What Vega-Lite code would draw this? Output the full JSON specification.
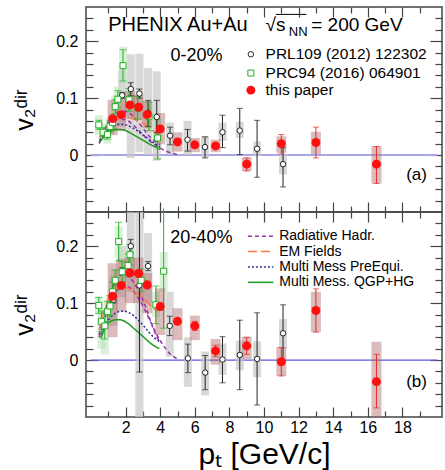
{
  "$schema": "https://vega.github.io/schema/vega-lite/v6.json",
  "padding": {"left": 12, "top": 5, "right": 0, "bottom": 0},
  "bounds": "flush",
  "spacing": 0,
  "config": {
    "font": "Liberation Sans",
    "view": {"stroke": "#444", "strokeWidth": 1.5},
    "axis": {"domain": false, "grid": false, "tickColor": "#444", "tickWidth": 1.2, "labelColor": "black", "labelFont": "Liberation Sans", "labelFontSize": 16, "titleColor": "black", "titleFont": "Liberation Sans", "titleFontWeight": "normal", "minExtent": 0, "labelOverlap": false, "labelFlush": false},
    "concat": {"spacing": 0}
  },
  "datasets": {
    "one": [{}],
    "ra": [
      {"x": 1.25, "v": 0.064, "el": 0.059, "eh": 0.069, "sl": 0.035, "sh": 0.097},
      {"x": 1.75, "v": 0.071, "el": 0.066, "eh": 0.076, "sl": 0.042, "sh": 0.1},
      {"x": 2.25, "v": 0.088, "el": 0.083, "eh": 0.093, "sl": 0.064, "sh": 0.112},
      {"x": 2.75, "v": 0.084, "el": 0.079, "eh": 0.089, "sl": 0.062, "sh": 0.106},
      {"x": 3.25, "v": 0.071, "el": 0.065, "eh": 0.077, "sl": 0.047, "sh": 0.095},
      {"x": 4.0, "v": 0.046, "el": 0.04, "eh": 0.052, "sl": 0.019, "sh": 0.074},
      {"x": 5.0, "v": 0.023, "el": 0.018, "eh": 0.028, "sl": 0.006, "sh": 0.04},
      {"x": 6.0, "v": 0.018, "el": 0.014, "eh": 0.022, "sl": 0.005, "sh": 0.03},
      {"x": 7.2, "v": 0.016, "el": 0.012, "eh": 0.02, "sl": 0.005, "sh": 0.027},
      {"x": 9.0, "v": -0.016, "el": -0.028, "eh": -0.005, "sl": -0.028, "sh": -0.004},
      {"x": 11.0, "v": 0.02, "el": 0.002, "eh": 0.036, "sl": 0.004, "sh": 0.033},
      {"x": 13.0, "v": 0.022, "el": -0.005, "eh": 0.049, "sl": 0.002, "sh": 0.041},
      {"x": 16.5, "v": -0.016, "el": -0.05, "eh": 0.015, "sl": -0.05, "sh": 0.016}
    ],
    "ga": [
      {"x": 1.8, "v": 0.105, "el": 0.1, "eh": 0.11, "sl": 0.05, "sh": 0.15},
      {"x": 2.3, "v": 0.116, "el": 0.104, "eh": 0.127, "sl": -0.005, "sh": 0.177},
      {"x": 2.8, "v": 0.108, "el": 0.1, "eh": 0.116, "sl": 0.005, "sh": 0.178},
      {"x": 3.3, "v": 0.074, "el": 0.05, "eh": 0.096, "sl": 0.0, "sh": 0.153},
      {"x": 3.8, "v": 0.067, "el": 0.039, "eh": 0.096, "sl": -0.01, "sh": 0.147},
      {"x": 4.57, "v": 0.034, "el": 0.018, "eh": 0.049, "sl": 0.001, "sh": 0.057},
      {"x": 5.58, "v": 0.027, "el": 0.007, "eh": 0.045, "sl": 0.0, "sh": 0.06},
      {"x": 6.59, "v": 0.014, "el": -0.005, "eh": 0.032, "sl": -0.004, "sh": 0.033},
      {"x": 7.6, "v": 0.04, "el": 0.013, "eh": 0.07, "sl": 0.025, "sh": 0.057},
      {"x": 8.6, "v": 0.043, "el": 0.001, "eh": 0.082, "sl": 0.03, "sh": 0.058},
      {"x": 9.6, "v": 0.011, "el": -0.039, "eh": 0.061, "sl": -0.002, "sh": 0.024},
      {"x": 11.1, "v": -0.016, "el": -0.056, "eh": 0.013, "sl": -0.034, "sh": 0.001}
    ],
    "na": [
      {"x": 0.45, "v": 0.053, "el": 0.045, "eh": 0.061, "sl": 0.035, "sh": 0.07},
      {"x": 0.7, "v": 0.04, "el": 0.032, "eh": 0.048, "sl": 0.025, "sh": 0.055},
      {"x": 0.95, "v": 0.036, "el": 0.028, "eh": 0.044, "sl": 0.02, "sh": 0.052},
      {"x": 1.1, "v": 0.05, "el": 0.04, "eh": 0.06, "sl": 0.035, "sh": 0.065},
      {"x": 1.25, "v": 0.057, "el": 0.047, "eh": 0.067, "sl": 0.04, "sh": 0.074},
      {"x": 1.4, "v": 0.085, "el": 0.073, "eh": 0.097, "sl": 0.065, "sh": 0.105},
      {"x": 1.55, "v": 0.098, "el": 0.083, "eh": 0.113, "sl": 0.075, "sh": 0.12},
      {"x": 1.85, "v": 0.157, "el": 0.13, "eh": 0.185, "sl": 0.125, "sh": 0.19},
      {"x": 2.2, "v": 0.097, "el": 0.077, "eh": 0.117, "sl": 0.075, "sh": 0.12},
      {"x": 2.7, "v": 0.083, "el": 0.063, "eh": 0.103, "sl": 0.06, "sh": 0.105},
      {"x": 3.35, "v": 0.068, "el": 0.043, "eh": 0.093, "sl": 0.045, "sh": 0.09},
      {"x": 3.85, "v": 0.03, "el": -0.007, "eh": 0.062, "sl": 0.01, "sh": 0.06}
    ],
    "rb": [
      {"x": 1.25, "v": 0.112, "el": 0.106, "eh": 0.118, "sl": 0.04, "sh": 0.17},
      {"x": 1.75, "v": 0.131, "el": 0.125, "eh": 0.137, "sl": 0.085, "sh": 0.178},
      {"x": 2.25, "v": 0.153, "el": 0.147, "eh": 0.159, "sl": 0.1, "sh": 0.18},
      {"x": 2.75, "v": 0.152, "el": 0.146, "eh": 0.158, "sl": 0.1, "sh": 0.18},
      {"x": 3.25, "v": 0.132, "el": 0.125, "eh": 0.139, "sl": 0.082, "sh": 0.153},
      {"x": 4.0, "v": 0.094, "el": 0.088, "eh": 0.1, "sl": 0.044, "sh": 0.126},
      {"x": 5.0, "v": 0.068, "el": 0.063, "eh": 0.073, "sl": 0.035, "sh": 0.091},
      {"x": 6.0, "v": 0.06, "el": 0.052, "eh": 0.068, "sl": 0.035, "sh": 0.078},
      {"x": 7.2, "v": 0.016, "el": 0.006, "eh": 0.026, "sl": -0.008, "sh": 0.037},
      {"x": 9.0, "v": 0.025, "el": 0.01, "eh": 0.04, "sl": 0.002, "sh": 0.041},
      {"x": 11.0, "v": -0.003, "el": -0.028, "eh": 0.022, "sl": -0.028, "sh": 0.023},
      {"x": 13.0, "v": 0.087, "el": 0.049, "eh": 0.125, "sl": 0.049, "sh": 0.12},
      {"x": 16.5, "v": -0.038, "el": -0.084, "eh": 0.01, "sl": -0.12, "sh": 0.032}
    ],
    "gb": [
      {"x": 1.3, "v": 0.106, "el": 0.1, "eh": 0.112, "sl": 0.06, "sh": 0.15},
      {"x": 1.8, "v": 0.156, "el": 0.15, "eh": 0.162, "sl": 0.11, "sh": 0.2},
      {"x": 2.3, "v": 0.2, "el": 0.188, "eh": 0.212, "sl": 0.12, "sh": 0.3},
      {"x": 2.8, "v": 0.131, "el": -0.021, "eh": 0.3, "sl": -0.12, "sh": 0.3},
      {"x": 3.3, "v": 0.165, "el": 0.157, "eh": 0.173, "sl": 0.1, "sh": 0.223},
      {"x": 4.55, "v": 0.06, "el": 0.043, "eh": 0.077, "sl": 0.006, "sh": 0.12},
      {"x": 5.6, "v": 0.003, "el": -0.022, "eh": 0.028, "sl": -0.047, "sh": 0.04},
      {"x": 6.6, "v": -0.022, "el": -0.052, "eh": 0.008, "sl": -0.062, "sh": 0.015},
      {"x": 7.6, "v": 0.001, "el": -0.04, "eh": 0.041, "sl": -0.026, "sh": 0.029},
      {"x": 8.6, "v": 0.009, "el": -0.052, "eh": 0.07, "sl": -0.018, "sh": 0.034},
      {"x": 9.6, "v": 0.002, "el": -0.079, "eh": 0.083, "sl": -0.03, "sh": 0.033},
      {"x": 11.1, "v": 0.047, "el": -0.003, "eh": 0.097, "sl": 0.02, "sh": 0.072}
    ],
    "nb": [
      {"x": 0.45, "v": 0.096, "el": 0.082, "eh": 0.11, "sl": 0.08, "sh": 0.112},
      {"x": 0.6, "v": 0.068, "el": 0.05, "eh": 0.086, "sl": 0.02, "sh": 0.09},
      {"x": 0.8, "v": 0.06, "el": 0.037, "eh": 0.083, "sl": 0.01, "sh": 0.085},
      {"x": 0.95, "v": 0.085, "el": 0.067, "eh": 0.103, "sl": 0.06, "sh": 0.105},
      {"x": 1.1, "v": 0.095, "el": 0.077, "eh": 0.113, "sl": 0.075, "sh": 0.115},
      {"x": 1.25, "v": 0.12, "el": 0.103, "eh": 0.137, "sl": 0.1, "sh": 0.14},
      {"x": 1.4, "v": 0.14, "el": 0.122, "eh": 0.158, "sl": 0.12, "sh": 0.16},
      {"x": 1.6, "v": 0.208, "el": 0.174, "eh": 0.242, "sl": 0.18, "sh": 0.235},
      {"x": 1.8, "v": 0.155, "el": 0.137, "eh": 0.173, "sl": 0.135, "sh": 0.175},
      {"x": 2.15, "v": 0.166, "el": 0.146, "eh": 0.186, "sl": 0.145, "sh": 0.19},
      {"x": 2.25, "v": 0.185, "el": 0.167, "eh": 0.203, "sl": 0.165, "sh": 0.205},
      {"x": 2.9, "v": 0.14, "el": 0.12, "eh": 0.16, "sl": 0.12, "sh": 0.16},
      {"x": 3.75, "v": 0.097, "el": 0.064, "eh": 0.13, "sl": 0.075, "sh": 0.12},
      {"x": 4.2, "v": 0.156, "el": 0.056, "eh": 0.266, "sl": 0.12, "sh": 0.19}
    ],
    "curves": [
      {"p": "a", "m": "rad", "k": 1, "x": 0.47, "v": 0.022}, {"p": "a", "m": "rad", "k": 1, "x": 0.75, "v": 0.042}, {"p": "a", "m": "rad", "k": 1, "x": 1.0, "v": 0.058}, {"p": "a", "m": "rad", "k": 1, "x": 1.3, "v": 0.069}, {"p": "a", "m": "rad", "k": 1, "x": 1.6, "v": 0.076}, {"p": "a", "m": "rad", "k": 1, "x": 1.9, "v": 0.077}, {"p": "a", "m": "rad", "k": 1, "x": 2.2, "v": 0.074}, {"p": "a", "m": "rad", "k": 1, "x": 2.5, "v": 0.066}, {"p": "a", "m": "rad", "k": 1, "x": 2.8, "v": 0.055}, {"p": "a", "m": "rad", "k": 1, "x": 3.1, "v": 0.043}, {"p": "a", "m": "rad", "k": 1, "x": 3.4, "v": 0.032}, {"p": "a", "m": "rad", "k": 1, "x": 3.7, "v": 0.024}, {"p": "a", "m": "rad", "k": 1, "x": 4.0, "v": 0.018},
      {"p": "a", "m": "rad", "k": 2, "x": 0.47, "v": 0.02}, {"p": "a", "m": "rad", "k": 2, "x": 0.8, "v": 0.038}, {"p": "a", "m": "rad", "k": 2, "x": 1.2, "v": 0.055}, {"p": "a", "m": "rad", "k": 2, "x": 1.6, "v": 0.063}, {"p": "a", "m": "rad", "k": 2, "x": 2.0, "v": 0.062}, {"p": "a", "m": "rad", "k": 2, "x": 2.4, "v": 0.054}, {"p": "a", "m": "rad", "k": 2, "x": 2.8, "v": 0.042}, {"p": "a", "m": "rad", "k": 2, "x": 3.2, "v": 0.03}, {"p": "a", "m": "rad", "k": 2, "x": 3.6, "v": 0.02}, {"p": "a", "m": "rad", "k": 2, "x": 4.0, "v": 0.012}, {"p": "a", "m": "rad", "k": 2, "x": 4.5, "v": 0.005}, {"p": "a", "m": "rad", "k": 2, "x": 5.0, "v": 0.001},
      {"p": "a", "m": "em", "k": 1, "x": 0.5, "v": 0.03}, {"p": "a", "m": "em", "k": 1, "x": 0.8, "v": 0.045}, {"p": "a", "m": "em", "k": 1, "x": 1.2, "v": 0.058}, {"p": "a", "m": "em", "k": 1, "x": 1.6, "v": 0.064}, {"p": "a", "m": "em", "k": 1, "x": 2.0, "v": 0.066}, {"p": "a", "m": "em", "k": 1, "x": 2.5, "v": 0.063}, {"p": "a", "m": "em", "k": 1, "x": 3.0, "v": 0.056}, {"p": "a", "m": "em", "k": 1, "x": 3.5, "v": 0.045}, {"p": "a", "m": "em", "k": 1, "x": 3.9, "v": 0.035},
      {"p": "a", "m": "pre", "k": 1, "x": 0.5, "v": 0.026}, {"p": "a", "m": "pre", "k": 1, "x": 0.8, "v": 0.038}, {"p": "a", "m": "pre", "k": 1, "x": 1.1, "v": 0.047}, {"p": "a", "m": "pre", "k": 1, "x": 1.4, "v": 0.052}, {"p": "a", "m": "pre", "k": 1, "x": 1.7, "v": 0.054}, {"p": "a", "m": "pre", "k": 1, "x": 2.0, "v": 0.053}, {"p": "a", "m": "pre", "k": 1, "x": 2.4, "v": 0.048}, {"p": "a", "m": "pre", "k": 1, "x": 2.8, "v": 0.04}, {"p": "a", "m": "pre", "k": 1, "x": 3.2, "v": 0.031}, {"p": "a", "m": "pre", "k": 1, "x": 3.6, "v": 0.022}, {"p": "a", "m": "pre", "k": 1, "x": 4.0, "v": 0.014},
      {"p": "a", "m": "qgp", "k": 1, "x": 0.5, "v": 0.023}, {"p": "a", "m": "qgp", "k": 1, "x": 0.75, "v": 0.032}, {"p": "a", "m": "qgp", "k": 1, "x": 1.0, "v": 0.039}, {"p": "a", "m": "qgp", "k": 1, "x": 1.3, "v": 0.044}, {"p": "a", "m": "qgp", "k": 1, "x": 1.6, "v": 0.045}, {"p": "a", "m": "qgp", "k": 1, "x": 1.9, "v": 0.044}, {"p": "a", "m": "qgp", "k": 1, "x": 2.2, "v": 0.04}, {"p": "a", "m": "qgp", "k": 1, "x": 2.6, "v": 0.033}, {"p": "a", "m": "qgp", "k": 1, "x": 3.0, "v": 0.026}, {"p": "a", "m": "qgp", "k": 1, "x": 3.4, "v": 0.019}, {"p": "a", "m": "qgp", "k": 1, "x": 3.8, "v": 0.013}, {"p": "a", "m": "qgp", "k": 1, "x": 4.0, "v": 0.01},
      {"p": "b", "m": "rad", "k": 1, "x": 0.47, "v": 0.044}, {"p": "b", "m": "rad", "k": 1, "x": 0.8, "v": 0.085}, {"p": "b", "m": "rad", "k": 1, "x": 1.1, "v": 0.115}, {"p": "b", "m": "rad", "k": 1, "x": 1.4, "v": 0.138}, {"p": "b", "m": "rad", "k": 1, "x": 1.7, "v": 0.149}, {"p": "b", "m": "rad", "k": 1, "x": 1.9, "v": 0.151}, {"p": "b", "m": "rad", "k": 1, "x": 2.2, "v": 0.146}, {"p": "b", "m": "rad", "k": 1, "x": 2.5, "v": 0.135}, {"p": "b", "m": "rad", "k": 1, "x": 2.8, "v": 0.118}, {"p": "b", "m": "rad", "k": 1, "x": 3.1, "v": 0.098}, {"p": "b", "m": "rad", "k": 1, "x": 3.4, "v": 0.072}, {"p": "b", "m": "rad", "k": 1, "x": 3.7, "v": 0.048}, {"p": "b", "m": "rad", "k": 1, "x": 4.0, "v": 0.03},
      {"p": "b", "m": "rad", "k": 2, "x": 0.47, "v": 0.04}, {"p": "b", "m": "rad", "k": 2, "x": 0.8, "v": 0.075}, {"p": "b", "m": "rad", "k": 2, "x": 1.1, "v": 0.1}, {"p": "b", "m": "rad", "k": 2, "x": 1.4, "v": 0.118}, {"p": "b", "m": "rad", "k": 2, "x": 1.7, "v": 0.128}, {"p": "b", "m": "rad", "k": 2, "x": 2.0, "v": 0.13}, {"p": "b", "m": "rad", "k": 2, "x": 2.3, "v": 0.126}, {"p": "b", "m": "rad", "k": 2, "x": 2.6, "v": 0.115}, {"p": "b", "m": "rad", "k": 2, "x": 3.0, "v": 0.095}, {"p": "b", "m": "rad", "k": 2, "x": 3.4, "v": 0.07}, {"p": "b", "m": "rad", "k": 2, "x": 3.8, "v": 0.045}, {"p": "b", "m": "rad", "k": 2, "x": 4.2, "v": 0.025}, {"p": "b", "m": "rad", "k": 2, "x": 4.6, "v": 0.01}, {"p": "b", "m": "rad", "k": 2, "x": 5.0, "v": 0.002},
      {"p": "b", "m": "em", "k": 1, "x": 0.47, "v": 0.053}, {"p": "b", "m": "em", "k": 1, "x": 0.75, "v": 0.085}, {"p": "b", "m": "em", "k": 1, "x": 1.03, "v": 0.108}, {"p": "b", "m": "em", "k": 1, "x": 1.35, "v": 0.122}, {"p": "b", "m": "em", "k": 1, "x": 1.7, "v": 0.129}, {"p": "b", "m": "em", "k": 1, "x": 2.15, "v": 0.126}, {"p": "b", "m": "em", "k": 1, "x": 2.5, "v": 0.12}, {"p": "b", "m": "em", "k": 1, "x": 2.9, "v": 0.111}, {"p": "b", "m": "em", "k": 1, "x": 3.3, "v": 0.1}, {"p": "b", "m": "em", "k": 1, "x": 3.6, "v": 0.092}, {"p": "b", "m": "em", "k": 1, "x": 3.85, "v": 0.085},
      {"p": "b", "m": "pre", "k": 1, "x": 0.6, "v": 0.045}, {"p": "b", "m": "pre", "k": 1, "x": 0.8, "v": 0.06}, {"p": "b", "m": "pre", "k": 1, "x": 1.0, "v": 0.07}, {"p": "b", "m": "pre", "k": 1, "x": 1.3, "v": 0.08}, {"p": "b", "m": "pre", "k": 1, "x": 1.6, "v": 0.085}, {"p": "b", "m": "pre", "k": 1, "x": 1.9, "v": 0.086}, {"p": "b", "m": "pre", "k": 1, "x": 2.2, "v": 0.083}, {"p": "b", "m": "pre", "k": 1, "x": 2.5, "v": 0.077}, {"p": "b", "m": "pre", "k": 1, "x": 2.8, "v": 0.068}, {"p": "b", "m": "pre", "k": 1, "x": 3.1, "v": 0.058}, {"p": "b", "m": "pre", "k": 1, "x": 3.4, "v": 0.047}, {"p": "b", "m": "pre", "k": 1, "x": 3.7, "v": 0.038}, {"p": "b", "m": "pre", "k": 1, "x": 4.0, "v": 0.032},
      {"p": "b", "m": "qgp", "k": 1, "x": 0.56, "v": 0.038}, {"p": "b", "m": "qgp", "k": 1, "x": 0.75, "v": 0.052}, {"p": "b", "m": "qgp", "k": 1, "x": 0.93, "v": 0.062}, {"p": "b", "m": "qgp", "k": 1, "x": 1.2, "v": 0.069}, {"p": "b", "m": "qgp", "k": 1, "x": 1.5, "v": 0.071}, {"p": "b", "m": "qgp", "k": 1, "x": 1.8, "v": 0.07}, {"p": "b", "m": "qgp", "k": 1, "x": 2.1, "v": 0.065}, {"p": "b", "m": "qgp", "k": 1, "x": 2.5, "v": 0.055}, {"p": "b", "m": "qgp", "k": 1, "x": 2.8, "v": 0.047}, {"p": "b", "m": "qgp", "k": 1, "x": 3.2, "v": 0.036}, {"p": "b", "m": "qgp", "k": 1, "x": 3.55, "v": 0.027}, {"p": "b", "m": "qgp", "k": 1, "x": 3.95, "v": 0.02}
    ]
  },
  "vconcat": [
    {
      "width": 356, "height": 205,
      "resolve": {"axis": {"x": "independent", "y": "independent"}},
      "layer": [
        {"data": {"name": "one"}, "mark": {"type": "rule", "color": "#a8a8e8", "strokeWidth": 2},
         "encoding": {
           "x": {"datum": 0, "type": "quantitative", "scale": {"domain": [0, 20], "nice": false, "zero": false},
                 "axis": {"orient": "bottom", "values": [1,2,3,4,5,6,7,8,9,10,11,12,13,14,15,16,17,18,19], "labels": false, "title": null,
                          "tickSize": {"condition": {"test": "datum.value % 2 === 0", "value": -10}, "value": -6}}},
           "x2": {"datum": 20},
           "y": {"datum": 0, "type": "quantitative", "scale": {"domain": [-0.1, 0.26], "nice": false, "zero": false},
                 "axis": {"orient": "left", "values": [-0.08,-0.06,-0.04,-0.02,0,0.02,0.04,0.06,0.08,0.1,0.12,0.14,0.16,0.18,0.2,0.22,0.24],
                          "labelExpr": "abs(datum.value*10 - round(datum.value*10)) < 0.001 ? (abs(datum.value) < 0.001 ? '0' : format(datum.value, '.1f')) : ''",
                          "labelPadding": 20, "title": "v₂ᵈⁱʳ", "titleFontSize": 25, "titlePadding": 18,
                          "tickSize": {"condition": {"test": "abs(datum.value*10 - round(datum.value*10)) < 0.001", "value": -12}, "value": -7}}}
         }},
        {"data": {"name": "one"}, "mark": {"type": "rule", "opacity": 0},
         "encoding": {
           "x": {"datum": 0, "type": "quantitative",
                 "axis": {"orient": "top", "values": [1,2,3,4,5,6,7,8,9,10,11,12,13,14,15,16,17,18,19], "labels": false, "title": null,
                          "tickSize": {"condition": {"test": "datum.value % 2 === 0", "value": -10}, "value": -6}}},
           "x2": {"datum": 20},
           "y": {"datum": 0, "type": "quantitative",
                 "axis": {"orient": "right", "values": [-0.08,-0.06,-0.04,-0.02,0,0.02,0.04,0.06,0.08,0.1,0.12,0.14,0.16,0.18,0.2,0.22,0.24], "labels": false, "title": null,
                          "tickSize": {"condition": {"test": "abs(datum.value*10 - round(datum.value*10)) < 0.001", "value": -12}, "value": -7}}}
         }},
        {"data": {"name": "ga"}, "mark": {"type": "bar", "width": 8, "color": "#c8c8c8", "opacity": 0.7, "clip": true},
         "encoding": {"x": {"field": "x", "type": "quantitative", "axis": null}, "y": {"field": "sl", "type": "quantitative", "axis": null}, "y2": {"field": "sh"}}},
        {"data": {"name": "na"}, "mark": {"type": "bar", "width": 8, "color": "#b4e2b4", "opacity": 0.5, "clip": true},
         "encoding": {"x": {"field": "x", "type": "quantitative", "axis": null}, "y": {"field": "sl", "type": "quantitative", "axis": null}, "y2": {"field": "sh"}}},
        {"data": {"name": "ra"}, "mark": {"type": "bar", "width": 10, "color": "#b06868", "opacity": 0.45, "clip": true},
         "encoding": {"x": {"field": "x", "type": "quantitative", "axis": null}, "y": {"field": "sl", "type": "quantitative", "axis": null}, "y2": {"field": "sh"}}},
        {"data": {"name": "curves"}, "transform": [{"filter": "datum.p == 'a'"}],
         "mark": {"type": "line", "strokeWidth": 1.5, "interpolate": "monotone", "clip": true},
         "encoding": {
           "x": {"field": "x", "type": "quantitative", "axis": null},
           "y": {"field": "v", "type": "quantitative", "axis": null},
           "detail": {"field": "k"},
           "color": {"field": "m", "type": "nominal", "legend": null, "scale": {"domain": ["rad", "em", "pre", "qgp"], "range": ["#9a2fa8", "#ff7a45", "#303096", "#1f9a1f"]}},
           "strokeDash": {"field": "m", "type": "nominal", "legend": null, "scale": {"domain": ["rad", "em", "pre", "qgp"], "range": [[4, 3], [9, 4], [2, 2], [1, 0]]}}
         }},
        {"data": {"name": "ga"}, "mark": {"type": "rule", "color": "#222", "strokeWidth": 1, "clip": true},
         "encoding": {"x": {"field": "x", "type": "quantitative", "axis": null}, "y": {"field": "el", "type": "quantitative", "axis": null}, "y2": {"field": "eh"}}},
        {"data": {"name": "ga"}, "mark": {"type": "tick", "orient": "horizontal", "color": "#222", "size": 6, "thickness": 1, "clip": true},
         "encoding": {"x": {"field": "x", "type": "quantitative", "axis": null}, "y": {"field": "el", "type": "quantitative", "axis": null}}},
        {"data": {"name": "ga"}, "mark": {"type": "tick", "orient": "horizontal", "color": "#222", "size": 6, "thickness": 1, "clip": true},
         "encoding": {"x": {"field": "x", "type": "quantitative", "axis": null}, "y": {"field": "eh", "type": "quantitative", "axis": null}}},
        {"data": {"name": "na"}, "mark": {"type": "rule", "color": "#22b022", "strokeWidth": 1, "clip": true},
         "encoding": {"x": {"field": "x", "type": "quantitative", "axis": null}, "y": {"field": "el", "type": "quantitative", "axis": null}, "y2": {"field": "eh"}}},
        {"data": {"name": "na"}, "mark": {"type": "tick", "orient": "horizontal", "color": "#22b022", "size": 7, "thickness": 1, "clip": true},
         "encoding": {"x": {"field": "x", "type": "quantitative", "axis": null}, "y": {"field": "el", "type": "quantitative", "axis": null}}},
        {"data": {"name": "na"}, "mark": {"type": "tick", "orient": "horizontal", "color": "#22b022", "size": 7, "thickness": 1, "clip": true},
         "encoding": {"x": {"field": "x", "type": "quantitative", "axis": null}, "y": {"field": "eh", "type": "quantitative", "axis": null}}},
        {"data": {"name": "ra"}, "mark": {"type": "rule", "color": "#e82828", "strokeWidth": 1, "clip": true},
         "encoding": {"x": {"field": "x", "type": "quantitative", "axis": null}, "y": {"field": "el", "type": "quantitative", "axis": null}, "y2": {"field": "eh"}}},
        {"data": {"name": "ra"}, "mark": {"type": "tick", "orient": "horizontal", "color": "#e82828", "size": 6, "thickness": 1, "clip": true},
         "encoding": {"x": {"field": "x", "type": "quantitative", "axis": null}, "y": {"field": "el", "type": "quantitative", "axis": null}}},
        {"data": {"name": "ra"}, "mark": {"type": "tick", "orient": "horizontal", "color": "#e82828", "size": 6, "thickness": 1, "clip": true},
         "encoding": {"x": {"field": "x", "type": "quantitative", "axis": null}, "y": {"field": "eh", "type": "quantitative", "axis": null}}},
        {"data": {"name": "ga"}, "mark": {"type": "point", "shape": "circle", "filled": true, "fill": "white", "stroke": "#222", "strokeWidth": 1, "size": 30, "opacity": 1, "clip": true},
         "encoding": {"x": {"field": "x", "type": "quantitative", "axis": null}, "y": {"field": "v", "type": "quantitative", "axis": null}}},
        {"data": {"name": "na"}, "mark": {"type": "point", "shape": "square", "filled": true, "fill": "white", "stroke": "#22b022", "strokeWidth": 1, "size": 36, "opacity": 1, "clip": true},
         "encoding": {"x": {"field": "x", "type": "quantitative", "axis": null}, "y": {"field": "v", "type": "quantitative", "axis": null}}},
        {"data": {"name": "ra"}, "mark": {"type": "point", "shape": "circle", "filled": true, "color": "#ff1010", "size": 80, "opacity": 1, "clip": true},
         "encoding": {"x": {"field": "x", "type": "quantitative", "axis": null}, "y": {"field": "v", "type": "quantitative", "axis": null}}},
        {"data": {"name": "one"}, "mark": {"type": "text", "align": "left", "baseline": "alphabetic", "fontSize": 20, "color": "black"},
         "encoding": {"x": {"datum": 0.99, "type": "quantitative", "axis": null}, "y": {"datum": 0.2175, "type": "quantitative", "axis": null}, "text": {"value": "PHENIX Au+Au"}}},
        {"data": {"name": "one"}, "mark": {"type": "text", "align": "left", "baseline": "alphabetic", "fontSize": 19, "color": "black"},
         "encoding": {"x": {"datum": 10.09, "type": "quantitative", "axis": null}, "y": {"datum": 0.2175, "type": "quantitative", "axis": null}, "text": {"value": "√s"}}},
        {"data": {"name": "one"}, "mark": {"type": "text", "align": "left", "baseline": "alphabetic", "fontSize": 13, "color": "black"},
         "encoding": {"x": {"datum": 11.43, "type": "quantitative", "axis": null}, "y": {"datum": 0.209, "type": "quantitative", "axis": null}, "text": {"value": "NN"}}},
        {"data": {"name": "one"}, "mark": {"type": "text", "align": "left", "baseline": "alphabetic", "fontSize": 19, "color": "black"},
         "encoding": {"x": {"datum": 12.73, "type": "quantitative", "axis": null}, "y": {"datum": 0.2175, "type": "quantitative", "axis": null}, "text": {"value": "= 200 GeV"}}},
        {"data": {"name": "one"}, "mark": {"type": "rule", "color": "black", "strokeWidth": 1},
         "encoding": {"x": {"datum": 10.68, "type": "quantitative", "axis": null}, "x2": {"datum": 12.45}, "y": {"datum": 0.247, "type": "quantitative", "axis": null}}},
        {"data": {"name": "one"}, "mark": {"type": "text", "align": "center", "baseline": "alphabetic", "fontSize": 18, "color": "black"},
         "encoding": {"x": {"datum": 6.1, "type": "quantitative", "axis": null}, "y": {"datum": 0.165, "type": "quantitative", "axis": null}, "text": {"value": "0-20%"}}},
        {"data": {"name": "one"}, "mark": {"type": "point", "shape": "circle", "filled": true, "fill": "white", "stroke": "#222", "strokeWidth": 1, "size": 30, "opacity": 1},
         "encoding": {"x": {"datum": 9.24, "type": "quantitative", "axis": null}, "y": {"datum": 0.177, "type": "quantitative", "axis": null}}},
        {"data": {"name": "one"}, "mark": {"type": "point", "shape": "square", "filled": true, "fill": "white", "stroke": "#22b022", "strokeWidth": 1, "size": 36, "opacity": 1},
         "encoding": {"x": {"datum": 9.24, "type": "quantitative", "axis": null}, "y": {"datum": 0.144, "type": "quantitative", "axis": null}}},
        {"data": {"name": "one"}, "mark": {"type": "point", "shape": "circle", "filled": true, "color": "#ff1010", "size": 80, "opacity": 1},
         "encoding": {"x": {"datum": 9.24, "type": "quantitative", "axis": null}, "y": {"datum": 0.114, "type": "quantitative", "axis": null}}},
        {"data": {"name": "one"}, "mark": {"type": "text", "align": "left", "baseline": "middle", "fontSize": 15.5, "color": "black"},
         "encoding": {"x": {"datum": 10.09, "type": "quantitative", "axis": null}, "y": {"datum": 0.177, "type": "quantitative", "axis": null}, "text": {"value": "PRL109 (2012) 122302"}}},
        {"data": {"name": "one"}, "mark": {"type": "text", "align": "left", "baseline": "middle", "fontSize": 15.5, "color": "black"},
         "encoding": {"x": {"datum": 10.09, "type": "quantitative", "axis": null}, "y": {"datum": 0.144, "type": "quantitative", "axis": null}, "text": {"value": "PRC94 (2016) 064901"}}},
        {"data": {"name": "one"}, "mark": {"type": "text", "align": "left", "baseline": "middle", "fontSize": 15.5, "color": "black"},
         "encoding": {"x": {"datum": 10.09, "type": "quantitative", "axis": null}, "y": {"datum": 0.114, "type": "quantitative", "axis": null}, "text": {"value": "this paper"}}},
        {"data": {"name": "one"}, "mark": {"type": "text", "align": "right", "baseline": "middle", "fontSize": 17, "color": "black"},
         "encoding": {"x": {"datum": 19.42, "type": "quantitative", "axis": null}, "y": {"datum": -0.035, "type": "quantitative", "axis": null}, "text": {"value": "(a)"}}}
      ]
    },
    {
      "width": 356, "height": 205,
      "resolve": {"axis": {"x": "independent", "y": "independent"}},
      "layer": [
        {"data": {"name": "one"}, "mark": {"type": "rule", "color": "#5a5ae0", "strokeWidth": 1.2},
         "encoding": {
           "x": {"datum": 0, "type": "quantitative", "scale": {"domain": [0, 20], "nice": false, "zero": false},
                 "axis": {"orient": "bottom", "values": [1,2,3,4,5,6,7,8,9,10,11,12,13,14,15,16,17,18,19],
                          "labelExpr": "datum.value % 2 === 0 ? datum.label : ''", "labelPadding": 12,
                          "title": "pₜ [GeV/c]", "titleFontSize": 30, "titlePadding": 0,
                          "tickSize": {"condition": {"test": "datum.value % 2 === 0", "value": -10}, "value": -6}}},
           "x2": {"datum": 20},
           "y": {"datum": 0, "type": "quantitative", "scale": {"domain": [-0.1, 0.26], "nice": false, "zero": false},
                 "axis": {"orient": "left", "values": [-0.08,-0.06,-0.04,-0.02,0,0.02,0.04,0.06,0.08,0.1,0.12,0.14,0.16,0.18,0.2,0.22,0.24],
                          "labelExpr": "abs(datum.value*10 - round(datum.value*10)) < 0.001 ? (abs(datum.value) < 0.001 ? '0' : format(datum.value, '.1f')) : ''",
                          "labelPadding": 20, "title": "v₂ᵈⁱʳ", "titleFontSize": 25, "titlePadding": 18,
                          "tickSize": {"condition": {"test": "abs(datum.value*10 - round(datum.value*10)) < 0.001", "value": -12}, "value": -7}}}
         }},
        {"data": {"name": "one"}, "mark": {"type": "rule", "opacity": 0},
         "encoding": {
           "x": {"datum": 0, "type": "quantitative",
                 "axis": {"orient": "top", "values": [1,2,3,4,5,6,7,8,9,10,11,12,13,14,15,16,17,18,19], "labels": false, "title": null,
                          "tickSize": {"condition": {"test": "datum.value % 2 === 0", "value": -10}, "value": -6}}},
           "x2": {"datum": 20},
           "y": {"datum": 0, "type": "quantitative",
                 "axis": {"orient": "right", "values": [-0.08,-0.06,-0.04,-0.02,0,0.02,0.04,0.06,0.08,0.1,0.12,0.14,0.16,0.18,0.2,0.22,0.24], "labels": false, "title": null,
                          "tickSize": {"condition": {"test": "abs(datum.value*10 - round(datum.value*10)) < 0.001", "value": -12}, "value": -7}}}
         }},
        {"data": {"name": "gb"}, "mark": {"type": "bar", "width": 8, "color": "#c8c8c8", "opacity": 0.7, "clip": true},
         "encoding": {"x": {"field": "x", "type": "quantitative", "axis": null}, "y": {"field": "sl", "type": "quantitative", "axis": null}, "y2": {"field": "sh"}}},
        {"data": {"name": "nb"}, "mark": {"type": "bar", "width": 8, "color": "#b4e2b4", "opacity": 0.5, "clip": true},
         "encoding": {"x": {"field": "x", "type": "quantitative", "axis": null}, "y": {"field": "sl", "type": "quantitative", "axis": null}, "y2": {"field": "sh"}}},
        {"data": {"name": "rb"}, "mark": {"type": "bar", "width": 10, "color": "#b06868", "opacity": 0.45, "clip": true},
         "encoding": {"x": {"field": "x", "type": "quantitative", "axis": null}, "y": {"field": "sl", "type": "quantitative", "axis": null}, "y2": {"field": "sh"}}},
        {"data": {"name": "curves"}, "transform": [{"filter": "datum.p == 'b'"}],
         "mark": {"type": "line", "strokeWidth": 1.5, "interpolate": "monotone", "clip": true},
         "encoding": {
           "x": {"field": "x", "type": "quantitative", "axis": null},
           "y": {"field": "v", "type": "quantitative", "axis": null},
           "detail": {"field": "k"},
           "color": {"field": "m", "type": "nominal", "legend": null, "scale": {"domain": ["rad", "em", "pre", "qgp"], "range": ["#9a2fa8", "#ff7a45", "#303096", "#1f9a1f"]}},
           "strokeDash": {"field": "m", "type": "nominal", "legend": null, "scale": {"domain": ["rad", "em", "pre", "qgp"], "range": [[4, 3], [9, 4], [2, 2], [1, 0]]}}
         }},
        {"data": {"name": "gb"}, "mark": {"type": "rule", "color": "#222", "strokeWidth": 1, "clip": true},
         "encoding": {"x": {"field": "x", "type": "quantitative", "axis": null}, "y": {"field": "el", "type": "quantitative", "axis": null}, "y2": {"field": "eh"}}},
        {"data": {"name": "gb"}, "mark": {"type": "tick", "orient": "horizontal", "color": "#222", "size": 6, "thickness": 1, "clip": true},
         "encoding": {"x": {"field": "x", "type": "quantitative", "axis": null}, "y": {"field": "el", "type": "quantitative", "axis": null}}},
        {"data": {"name": "gb"}, "mark": {"type": "tick", "orient": "horizontal", "color": "#222", "size": 6, "thickness": 1, "clip": true},
         "encoding": {"x": {"field": "x", "type": "quantitative", "axis": null}, "y": {"field": "eh", "type": "quantitative", "axis": null}}},
        {"data": {"name": "nb"}, "mark": {"type": "rule", "color": "#22b022", "strokeWidth": 1},
         "encoding": {"x": {"field": "x", "type": "quantitative", "axis": null}, "y": {"field": "el", "type": "quantitative", "axis": null}, "y2": {"field": "eh"}}},
        {"data": {"name": "nb"}, "mark": {"type": "tick", "orient": "horizontal", "color": "#22b022", "size": 7, "thickness": 1, "clip": true},
         "encoding": {"x": {"field": "x", "type": "quantitative", "axis": null}, "y": {"field": "el", "type": "quantitative", "axis": null}}},
        {"data": {"name": "nb"}, "mark": {"type": "tick", "orient": "horizontal", "color": "#22b022", "size": 7, "thickness": 1, "clip": true},
         "encoding": {"x": {"field": "x", "type": "quantitative", "axis": null}, "y": {"field": "eh", "type": "quantitative", "axis": null}}},
        {"data": {"name": "rb"}, "mark": {"type": "rule", "color": "#e82828", "strokeWidth": 1, "clip": true},
         "encoding": {"x": {"field": "x", "type": "quantitative", "axis": null}, "y": {"field": "el", "type": "quantitative", "axis": null}, "y2": {"field": "eh"}}},
        {"data": {"name": "rb"}, "mark": {"type": "tick", "orient": "horizontal", "color": "#e82828", "size": 6, "thickness": 1, "clip": true},
         "encoding": {"x": {"field": "x", "type": "quantitative", "axis": null}, "y": {"field": "el", "type": "quantitative", "axis": null}}},
        {"data": {"name": "rb"}, "mark": {"type": "tick", "orient": "horizontal", "color": "#e82828", "size": 6, "thickness": 1, "clip": true},
         "encoding": {"x": {"field": "x", "type": "quantitative", "axis": null}, "y": {"field": "eh", "type": "quantitative", "axis": null}}},
        {"data": {"name": "gb"}, "mark": {"type": "point", "shape": "circle", "filled": true, "fill": "white", "stroke": "#222", "strokeWidth": 1, "size": 30, "opacity": 1, "clip": true},
         "encoding": {"x": {"field": "x", "type": "quantitative", "axis": null}, "y": {"field": "v", "type": "quantitative", "axis": null}}},
        {"data": {"name": "nb"}, "mark": {"type": "point", "shape": "square", "filled": true, "fill": "white", "stroke": "#22b022", "strokeWidth": 1, "size": 36, "opacity": 1, "clip": true},
         "encoding": {"x": {"field": "x", "type": "quantitative", "axis": null}, "y": {"field": "v", "type": "quantitative", "axis": null}}},
        {"data": {"name": "rb"}, "mark": {"type": "point", "shape": "circle", "filled": true, "color": "#ff1010", "size": 80, "opacity": 1, "clip": true},
         "encoding": {"x": {"field": "x", "type": "quantitative", "axis": null}, "y": {"field": "v", "type": "quantitative", "axis": null}}},
        {"data": {"name": "one"}, "mark": {"type": "text", "align": "center", "baseline": "alphabetic", "fontSize": 18, "color": "black"},
         "encoding": {"x": {"datum": 6.38, "type": "quantitative", "axis": null}, "y": {"datum": 0.2057, "type": "quantitative", "axis": null}, "text": {"value": "20-40%"}}},
        {"data": {"name": "one"}, "mark": {"type": "rule", "color": "#9a2fa8", "strokeWidth": 1.5, "strokeDash": [4, 3]},
         "encoding": {"x": {"datum": 9.07, "type": "quantitative", "axis": null}, "x2": {"datum": 10.54}, "y": {"datum": 0.2175, "type": "quantitative", "axis": null}}},
        {"data": {"name": "one"}, "mark": {"type": "rule", "color": "#ff7a45", "strokeWidth": 1.5, "strokeDash": [9, 4]},
         "encoding": {"x": {"datum": 9.07, "type": "quantitative", "axis": null}, "x2": {"datum": 10.54}, "y": {"datum": 0.1905, "type": "quantitative", "axis": null}}},
        {"data": {"name": "one"}, "mark": {"type": "rule", "color": "#303096", "strokeWidth": 1.5, "strokeDash": [2, 2]},
         "encoding": {"x": {"datum": 9.07, "type": "quantitative", "axis": null}, "x2": {"datum": 10.54}, "y": {"datum": 0.1635, "type": "quantitative", "axis": null}}},
        {"data": {"name": "one"}, "mark": {"type": "rule", "color": "#1f9a1f", "strokeWidth": 1.5},
         "encoding": {"x": {"datum": 9.07, "type": "quantitative", "axis": null}, "x2": {"datum": 10.54}, "y": {"datum": 0.1365, "type": "quantitative", "axis": null}}},
        {"data": {"name": "one"}, "mark": {"type": "text", "align": "left", "baseline": "middle", "fontSize": 14, "color": "black"},
         "encoding": {"x": {"datum": 10.88, "type": "quantitative", "axis": null}, "y": {"datum": 0.2175, "type": "quantitative", "axis": null}, "text": {"value": "Radiative Hadr."}}},
        {"data": {"name": "one"}, "mark": {"type": "text", "align": "left", "baseline": "middle", "fontSize": 14, "color": "black"},
         "encoding": {"x": {"datum": 10.88, "type": "quantitative", "axis": null}, "y": {"datum": 0.1905, "type": "quantitative", "axis": null}, "text": {"value": "EM Fields"}}},
        {"data": {"name": "one"}, "mark": {"type": "text", "align": "left", "baseline": "middle", "fontSize": 14, "color": "black"},
         "encoding": {"x": {"datum": 10.88, "type": "quantitative", "axis": null}, "y": {"datum": 0.1635, "type": "quantitative", "axis": null}, "text": {"value": "Multi Mess PreEqui."}}},
        {"data": {"name": "one"}, "mark": {"type": "text", "align": "left", "baseline": "middle", "fontSize": 14, "color": "black"},
         "encoding": {"x": {"datum": 10.88, "type": "quantitative", "axis": null}, "y": {"datum": 0.1365, "type": "quantitative", "axis": null}, "text": {"value": "Multi Mess. QGP+HG"}}},
        {"data": {"name": "one"}, "mark": {"type": "text", "align": "right", "baseline": "middle", "fontSize": 17, "color": "black"},
         "encoding": {"x": {"datum": 19.42, "type": "quantitative", "axis": null}, "y": {"datum": -0.038, "type": "quantitative", "axis": null}, "text": {"value": "(b)"}}}
      ]
    }
  ]
}
